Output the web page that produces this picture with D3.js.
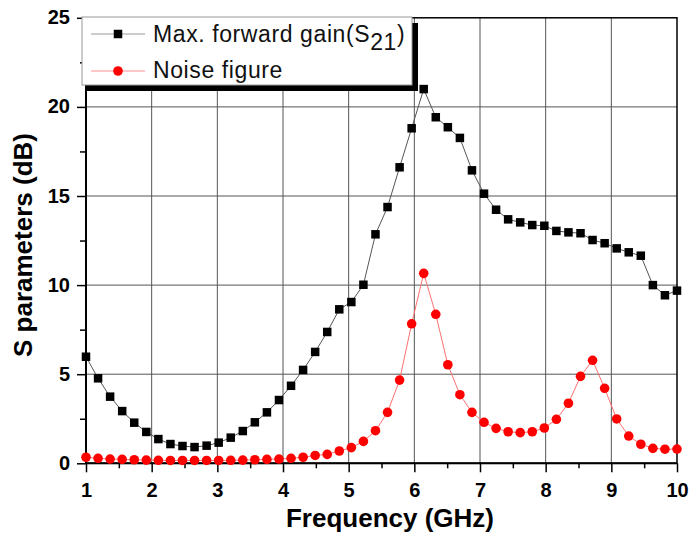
<!DOCTYPE html>
<html>
<head>
<meta charset="utf-8">
<script src="https://cdn.jsdelivr.net/npm/d3@7"></script>
<style>
  body { margin: 0; background: #fff; }
  text { font-family: Arial, "Liberation Sans", sans-serif; }
</style>
</head>
<body>
<div id="chart"></div>
<script>
// frequency points: 50 samples from 1 to 10 GHz
const freqStart = 1, freqEnd = 10, nPoints = 50;
const frequency = d3.range(nPoints).map(i => freqStart + i * (freqEnd - freqStart) / (nPoints - 1));

// Max. forward gain (S21), dB
const gainS21 = [5.98, 4.77, 3.74, 2.93, 2.28, 1.76, 1.36, 1.08, 0.97, 0.91,
    0.99, 1.16, 1.44, 1.81, 2.30, 2.86, 3.55, 4.35, 5.24, 6.25,
    7.37, 8.64, 9.05, 10.02, 12.85, 14.38, 16.61, 18.80, 21.0, 19.42,
    18.86, 18.26, 16.44, 15.13, 14.23, 13.69, 13.52, 13.37, 13.33, 13.04,
    12.96, 12.91, 12.53, 12.35, 12.06, 11.84, 11.65, 10.0, 9.43, 9.69];

// Noise figure, dB
const noiseFigure = [0.34, 0.28, 0.24, 0.22, 0.20, 0.18, 0.17, 0.16, 0.16, 0.16,
    0.16, 0.16, 0.17, 0.18, 0.20, 0.22, 0.24, 0.28, 0.34, 0.44,
    0.50, 0.69, 0.88, 1.23, 1.83, 2.86, 4.67, 7.83, 10.66, 8.36,
    5.53, 3.85, 2.86, 2.30, 1.96, 1.77, 1.72, 1.77, 1.98, 2.47,
    3.37, 4.88, 5.78, 4.21, 2.49, 1.53, 1.07, 0.84, 0.79, 0.80];

const xTicks = [1, 2, 3, 4, 5, 6, 7, 8, 9, 10];
const yTicks = [0, 5, 10, 15, 20, 25];
const seriesNames = ["Max. forward gain(S", "Noise figure"];

let width = 691, height = 535;
let margin = {top: 17.8, right: 14, bottom: 71.7, left: 86};
let innerW = width - margin.left - margin.right;
let innerH = height - margin.top - margin.bottom;

let svg = d3.select("#chart").append("svg")
    .attr("width", width)
    .attr("height", height);

let g = svg.append("g")
    .attr("transform", "translate(" + margin.left + "," + margin.top + ")");

let x = d3.scaleLinear().domain([1, 10]).range([0, innerW]);
let y = d3.scaleLinear().domain([0, 25]).range([innerH, 0]);

// grid lines
g.append("g").selectAll("line")
    .data(xTicks.slice(1, -1))
    .enter().append("line")
    .attr("x1", d => x(d)).attr("x2", d => x(d))
    .attr("y1", 0).attr("y2", innerH)
    .attr("stroke", "#555").attr("stroke-width", 1);

g.append("g").selectAll("line")
    .data(yTicks.slice(1, -1))
    .enter().append("line")
    .attr("x1", 0).attr("x2", innerW)
    .attr("y1", d => y(d)).attr("y2", d => y(d))
    .attr("stroke", "#555").attr("stroke-width", 1);

// axes
let xAxis = g.append("g")
    .attr("transform", "translate(0," + innerH + ")")
    .call(d3.axisBottom(x).tickValues(xTicks).tickFormat(d3.format("d")).tickSize(9).tickPadding(6));
let xMinor = g.append("g")
    .attr("transform", "translate(0," + innerH + ")")
    .call(d3.axisBottom(x).tickValues(xTicks.slice(0, -1).map(d => d + 0.5)).tickFormat("").tickSize(5));

let yAxis = g.append("g")
    .call(d3.axisLeft(y).tickValues(yTicks).tickFormat(d3.format("d")).tickSize(9).tickPadding(7));
let yMinor = g.append("g")
    .call(d3.axisLeft(y).tickValues(yTicks.slice(0, -1).map(d => d + 2.5)).tickFormat("").tickSize(6));

[xAxis, xMinor, yAxis, yMinor].forEach(a => {
    a.attr("font-family", null);
    a.select(".domain").remove();
    a.selectAll("line").attr("stroke", "#000").attr("stroke-width", 1.5);
    a.selectAll("text")
        .attr("fill", "#000")
        .style("font-size", "20px")
        .style("font-weight", "bold");
});
yAxis.selectAll("text").attr("dy", "0.3em");
xAxis.selectAll("text").attr("dy", "0.92em");

// frame
g.append("rect")
    .attr("x", 0).attr("y", 0)
    .attr("width", innerW).attr("height", innerH)
    .attr("fill", "none")
    .attr("stroke", "#000").attr("stroke-width", 1.5);
g.append("line")
    .attr("x1", 0).attr("x2", 0).attr("y1", 0).attr("y2", innerH)
    .attr("stroke", "#000").attr("stroke-width", 2);
g.append("line")
    .attr("x1", 0).attr("x2", innerW).attr("y1", innerH).attr("y2", innerH)
    .attr("stroke", "#000").attr("stroke-width", 2);

// lines
let gainData = frequency.map((f, i) => ({f: f, v: gainS21[i]}));
let noiseData = frequency.map((f, i) => ({f: f, v: noiseFigure[i]}));

let line = d3.line()
    .x(d => x(d.f))
    .y(d => y(d.v));

g.append("path")
    .datum(gainData)
    .attr("d", line)
    .attr("fill", "none")
    .attr("stroke", "#555")
    .attr("stroke-width", 1);

g.append("path")
    .datum(noiseData)
    .attr("d", line)
    .attr("fill", "none")
    .attr("stroke", "#ff7070")
    .attr("stroke-width", 1);

let sq = 8.5;
g.append("g").selectAll("rect")
    .data(gainData)
    .enter().append("rect")
    .attr("x", d => x(d.f) - sq / 2)
    .attr("y", d => y(d.v) - sq / 2)
    .attr("width", sq).attr("height", sq)
    .attr("fill", "#000");

g.append("g").selectAll("circle")
    .data(noiseData)
    .enter().append("circle")
    .attr("cx", d => x(d.f))
    .attr("cy", d => y(d.v))
    .attr("r", 4.8)
    .attr("fill", "#ff0000");

// axis titles
svg.append("text")
    .attr("x", 390)
    .attr("y", 527)
    .attr("text-anchor", "middle")
    .style("font-size", "26px")
    .style("font-weight", "bold")
    .text("Frequency (GHz)");

svg.append("text")
    .attr("transform", "translate(32," + 245 + ") rotate(-90)")
    .attr("text-anchor", "middle")
    .style("font-size", "26px")
    .style("font-weight", "bold")
    .text("S parameters (dB)");

// legend with shadow
let legend = svg.append("g");
legend.append("rect")
    .attr("x", 87).attr("y", 23)
    .attr("width", 331).attr("height", 68)
    .attr("fill", "#000");
legend.append("rect")
    .attr("x", 82).attr("y", 17)
    .attr("width", 330).attr("height", 68)
    .attr("fill", "#fff")
    .attr("stroke", "#999").attr("stroke-width", 1);

let rowY = [34, 71];
legend.append("line")
    .attr("x1", 91).attr("x2", 145).attr("y1", rowY[0]).attr("y2", rowY[0])
    .attr("stroke", "#999").attr("stroke-width", 1.2);
legend.append("rect")
    .attr("x", 118 - sq / 2).attr("y", rowY[0] - sq / 2)
    .attr("width", sq).attr("height", sq)
    .attr("fill", "#000");
legend.append("line")
    .attr("x1", 91).attr("x2", 145).attr("y1", rowY[1]).attr("y2", rowY[1])
    .attr("stroke", "#ff9090").attr("stroke-width", 1.2);
legend.append("circle")
    .attr("cx", 118).attr("cy", rowY[1])
    .attr("r", 4.8)
    .attr("fill", "#ff0000");

let t1 = legend.append("text")
    .attr("x", 153).attr("y", 41.5)
    .style("font-size", "23px")
    .style("letter-spacing", "0.6px")
    .attr("fill", "#111");
t1.append("tspan").text(seriesNames[0]);
t1.append("tspan").attr("dy", 8).text("21");
t1.append("tspan").attr("dy", -8).text(")");

legend.append("text")
    .attr("x", 153).attr("y", 77.5)
    .style("font-size", "23px")
    .style("letter-spacing", "0.6px")
    .attr("fill", "#111")
    .text(seriesNames[1]);
</script>
</body>
</html>
